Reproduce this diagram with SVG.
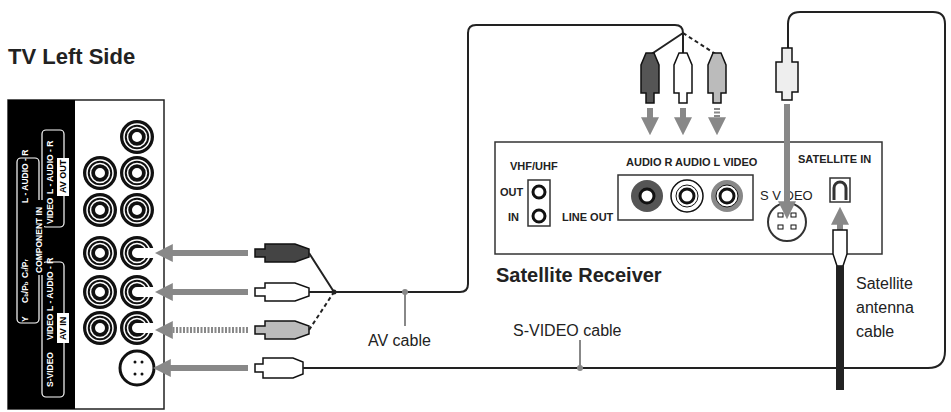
<svg xmlns="http://www.w3.org/2000/svg" width="951" height="412" viewBox="0 0 951 412">
<style>
text{font-family:"Liberation Sans",Arial,sans-serif;fill:#222}
.lab{font-size:16px}
.w{fill:#fff;font-size:8.5px;font-weight:bold}
.b{fill:#000;font-size:9px;font-weight:bold}
.sm{font-size:11px;font-weight:bold}
.cable{fill:none;stroke:#222;stroke-width:2}
.arr{stroke:#888;stroke-width:6;fill:none}
.jack{fill:#fff;stroke:#111}
.box{fill:#fff;stroke:#333;stroke-width:1.5}
.br{fill:none;stroke:#fff;stroke-width:1.2}
</style>
<defs>
<marker id="ah" viewBox="0 0 10 10" refX="6" refY="5" markerWidth="3" markerHeight="3" orient="auto"><path d="M0,0L10,5L0,10z" fill="#888"/></marker>
<g id="rca"><circle r="17" fill="#111"/><circle r="13" fill="none" stroke="#fff" stroke-width="1.5"/><circle r="9.5" fill="none" stroke="#fff" stroke-width="1.5"/><circle r="6" fill="#fff" stroke="#111" stroke-width="2"/></g>
<g id="rcac"><circle r="17" fill="#111"/><circle r="13" fill="none" stroke="#fff" stroke-width="1.5"/><circle r="9.5" fill="none" stroke="#fff" stroke-width="1.5"/><circle r="6" fill="#fff" stroke="#111" stroke-width="2"/><rect x="0" y="-5" width="18" height="10" fill="#fff"/></g>
<g id="plugH"><path d="M0,-4h10v-5h30l14,5v8l-14,5h-30v-5h-10z" stroke="#111" stroke-width="1.5"/></g>
<g id="plugV"><path d="M-4,50v-10h-5v-28l5,-12h8l5,12v28h-5v10z" stroke="#111" stroke-width="1.5"/></g>
</defs>
<text x="8" y="64" font-size="22" font-weight="bold">TV Left Side</text>
<g id="tv">
<rect x="8" y="100" width="156" height="309" fill="#fff" stroke="#222" stroke-width="1.5"/>
<rect x="8" y="100" width="67" height="309" fill="#000"/>
<rect x="17" y="158" width="22" height="165" rx="4" class="br"/>
<rect x="42" y="262" width="22" height="135" rx="4" class="br"/>
<rect x="42" y="130" width="22" height="97" rx="4" class="br"/>
<rect x="57" y="313" width="12" height="30" fill="#fff"/>
<rect x="57" y="158" width="12" height="38" fill="#fff"/>
<rect x="32" y="200" width="12" height="75" fill="#000"/>
<g transform="rotate(-90)">
<text x="-387" y="53" class="w">S-VIDEO</text>
<text x="-340" y="53" class="w">VIDEO</text>
<text x="-311" y="53" class="w">L - AUDIO - R</text>
<text x="-340" y="66" class="b">AV IN</text>
<text x="-322" y="28" class="w">Y</text>
<text x="-303" y="28" class="w">C<tspan font-size="6">b</tspan>/P<tspan font-size="6">b</tspan></text>
<text x="-278" y="28" class="w">C<tspan font-size="6">r</tspan>/P<tspan font-size="6">r</tspan></text>
<text x="-203" y="28" class="w">L - AUDIO - R</text>
<text x="-273" y="42" class="w">COMPONENT IN</text>
<text x="-224" y="53" class="w">VIDEO</text>
<text x="-194" y="53" class="w">L - AUDIO - R</text>
<text x="-193" y="66" class="b">AV OUT</text>
</g>
<use href="#rca" x="137" y="137"/>
<use href="#rca" x="100" y="173"/><use href="#rca" x="137" y="173"/>
<use href="#rca" x="100" y="210"/><use href="#rca" x="137" y="210"/>
<use href="#rca" x="100" y="253"/><use href="#rcac" x="137" y="253"/>
<use href="#rca" x="100" y="292"/><use href="#rcac" x="137" y="292"/>
<use href="#rca" x="100" y="328"/><use href="#rcac" x="137" y="328"/>
<circle cx="137" cy="368" r="17" fill="#fff" stroke="#111" stroke-width="3"/>
<circle cx="135" cy="362" r="1.5" fill="#111"/><circle cx="135" cy="374" r="1.5" fill="#111"/><circle cx="142" cy="362" r="1.5" fill="#111"/><circle cx="142" cy="374" r="1.5" fill="#111"/>
</g>
<g id="receiver">
<rect x="495" y="142" width="387" height="112" class="box"/>
<text x="510" y="170" class="sm">VHF/UHF</text>
<rect x="528" y="180" width="22" height="46" class="box"/>
<circle cx="539" cy="192" r="6" class="jack" stroke-width="3"/><circle cx="539" cy="216" r="6" class="jack" stroke-width="3"/>
<text x="500" y="196" class="sm">OUT</text><text x="508" y="221" class="sm">IN</text>
<text x="562" y="221" class="sm">LINE OUT</text>
<text x="626" y="166" class="sm">AUDIO R  AUDIO L  VIDEO</text>
<rect x="618" y="175" width="135" height="45" class="box"/>
<circle cx="647" cy="196" r="16" fill="#555"/><circle cx="647" cy="196" r="7" fill="#fff" stroke="#111" stroke-width="3"/>
<circle cx="687" cy="196" r="16" fill="#fff" stroke="#111" stroke-width="1.5"/><circle cx="687" cy="196" r="11" fill="none" stroke="#111"/><circle cx="687" cy="196" r="7" fill="#fff" stroke="#111" stroke-width="3"/>
<circle cx="727" cy="196" r="16" fill="#888"/><circle cx="727" cy="196" r="11" fill="#fff" stroke="#111"/><circle cx="727" cy="196" r="7" fill="#fff" stroke="#111" stroke-width="3"/>
<text x="760" y="200" font-size="13">S V DEO</text>
<circle cx="787" cy="222" r="19" fill="#fff" stroke="#333" stroke-width="2"/>
<rect x="778" y="213" width="5" height="4" class="jack"/><rect x="791" y="213" width="5" height="4" class="jack"/><rect x="778" y="225" width="5" height="4" class="jack"/><rect x="791" y="225" width="5" height="4" class="jack"/>
<text x="798" y="163" class="sm">SATELLITE IN</text>
<rect x="830" y="178" width="20" height="24" class="box"/>
<path d="M834,200v-12a6,6 0 0 1 12,0v12" fill="none" stroke="#333" stroke-width="3"/>
</g>
<text x="496" y="282" font-size="20" font-weight="bold">Satellite Receiver</text>
<g id="connectors">
<path class="arr" d="M248,253H162" marker-end="url(#ah)"/>
<path class="arr" d="M248,292H162" marker-end="url(#ah)"/>
<path class="arr" d="M248,330H162" stroke-dasharray="2,1.5" marker-end="url(#ah)"/>
<path class="arr" d="M248,368H160" marker-end="url(#ah)"/>
<use href="#plugH" x="255" y="253" fill="#444"/>
<use href="#plugH" x="255" y="292" fill="#fff"/>
<use href="#plugH" x="255" y="330" fill="#bbb"/>
<path d="M255,364h8v-6h30l10,4v12l-10,4h-30v-6h-8z" fill="#fff" stroke="#111" stroke-width="1.5"/>
<path class="cable" d="M309,253L334,292M309,292H334"/>
<path class="cable" d="M309,330L334,292" stroke-dasharray="4,3"/>
<path class="cable" d="M334,292H460q8,0 8,-8V33q0,-8 8,-8H675q8,0 8,8"/>
<path class="cable" d="M683,33L650,55M683,33V55"/>
<path class="cable" d="M683,33L717,55" stroke-dasharray="4,3"/>
<circle cx="334" cy="292" r="2.5" fill="#222"/>
<use href="#plugV" x="650" y="53" fill="#555"/>
<use href="#plugV" x="683" y="53" fill="#fff"/>
<use href="#plugV" x="717" y="53" fill="#bbb"/>
<path class="arr" d="M650,108V128" marker-end="url(#ah)"/>
<path class="arr" d="M683,108V128" marker-end="url(#ah)"/>
<path class="arr" d="M717,108V128" stroke-dasharray="2,1.5" marker-end="url(#ah)"/>
<path class="cable" d="M303,368H928q17,0 17,-17V24q0,-12 -12,-12H800q-12,0 -12,12V50"/>
<path d="M782,100v-8h-6v-30h6v-14h10v14h6v30h-6v8z" fill="#eee" stroke="#111" stroke-width="1.5"/>
<path class="arr" d="M787,104V212" marker-end="url(#ah)"/>
<path class="arr" d="M840,255V214" marker-end="url(#ah)"/>
<path d="M833,230h14v24l-4,12h-6l-4,-12z" fill="#fff" stroke="#111" stroke-width="1.5"/>
<rect x="836" y="266" width="8" height="124" fill="#222"/>
<path d="M405,292V326M580,368V340" stroke="#888" stroke-width="2"/>
<circle cx="405" cy="292" r="3" fill="#888"/><circle cx="580" cy="368" r="3" fill="#888"/>
</g>
<text x="368" y="346" class="lab">AV cable</text>
<text x="513" y="336" class="lab">S-VIDEO cable</text>
<text x="856" y="289" class="lab">Satellite</text>
<text x="856" y="313" class="lab">antenna</text>
<text x="856" y="337" class="lab">cable</text>
</svg>
